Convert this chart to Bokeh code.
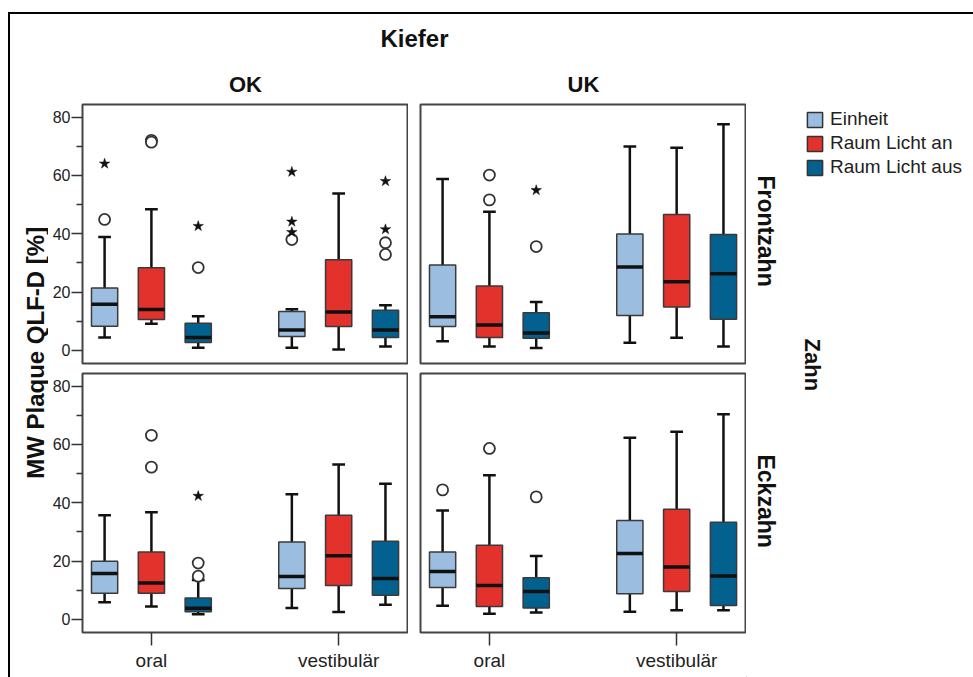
import numpy as np
from bokeh.plotting import figure
from bokeh.models import Range1d, FixedTicker, ColumnDataSource, Legend, LegendItem
from bokeh.layouts import column, row
from bokeh.core.properties import value
from bokeh.embed import file_html
from bokeh.resources import INLINE

# ---------------- data ----------------
CATEGORIES = ["oral", "vestibulär"]
GROUPS = ["Einheit", "Raum Licht an", "Raum Licht aus"]
KIEFER = ["OK", "UK"]
ZAHN = ["Frontzahn", "Eckzahn"]
Y_TICKS = [0, 20, 40, 60, 80]
Y_MINOR = [10, 30, 50, 70]
Y_LABEL = "MW Plaque QLF-D [%]"
FACET_COL_TITLE = "Kiefer"
FACET_ROW_TITLE = "Zahn"

# box order in each panel: oral(Einheit, an, aus), vestibulär(Einheit, an, aus)
# Frontzahn / OK
FZ_OK_LOW = [4.4, 9.1, 0.9, 0.9, 0.3, 1.3]
FZ_OK_Q1 = [8.3, 10.6, 2.7, 4.8, 8.2, 4.4]
FZ_OK_MED = [15.8, 14.0, 4.4, 7.0, 13.2, 7.0]
FZ_OK_Q3 = [21.4, 28.3, 9.3, 13.3, 31.1, 13.8]
FZ_OK_UP = [38.9, 48.4, 11.7, 14.1, 53.8, 15.5]
FZ_OK_OUT_IDX = [0, 1, 1, 2, 3, 5, 5]
FZ_OK_OUT_VAL = [44.9, 72.0, 71.4, 28.4, 38.0, 36.9, 32.9]
FZ_OK_EXT_IDX = [0, 2, 3, 3, 3, 5, 5]
FZ_OK_EXT_VAL = [64.0, 42.6, 61.2, 44.1, 40.5, 58.0, 41.5]

# Frontzahn / UK
FZ_UK_LOW = [3.1, 1.3, 0.8, 2.6, 4.3, 1.3]
FZ_UK_Q1 = [8.2, 4.4, 4.2, 12.0, 14.9, 10.7]
FZ_UK_MED = [11.5, 8.7, 6.0, 28.6, 23.5, 26.3]
FZ_UK_Q3 = [29.3, 22.1, 12.9, 39.9, 46.6, 39.7]
FZ_UK_UP = [58.8, 47.5, 16.6, 69.9, 69.5, 77.5]
FZ_UK_OUT_IDX = [1, 1, 2]
FZ_UK_OUT_VAL = [60.1, 51.6, 35.6]
FZ_UK_EXT_IDX = [2]
FZ_UK_EXT_VAL = [54.9]

# Eckzahn / OK
EZ_OK_LOW = [5.9, 4.4, 1.8, 3.9, 2.5, 5.0]
EZ_OK_Q1 = [9.0, 9.0, 2.6, 10.6, 11.6, 8.3]
EZ_OK_MED = [15.7, 12.5, 3.8, 14.7, 21.8, 14.0]
EZ_OK_Q3 = [19.9, 23.1, 7.3, 26.5, 35.7, 26.8]
EZ_OK_UP = [35.7, 36.7, 13.5, 42.9, 53.1, 46.5]
EZ_OK_OUT_IDX = [1, 1, 2, 2]
EZ_OK_OUT_VAL = [63.1, 52.2, 19.3, 14.8]
EZ_OK_EXT_IDX = [2]
EZ_OK_EXT_VAL = [42.3]

# Eckzahn / UK
EZ_UK_LOW = [4.7, 1.9, 2.4, 2.6, 3.1, 3.1]
EZ_UK_Q1 = [10.9, 4.4, 3.9, 8.8, 9.6, 4.8]
EZ_UK_MED = [16.4, 11.6, 9.6, 22.6, 18.0, 14.9]
EZ_UK_Q3 = [23.1, 25.4, 14.3, 33.9, 37.8, 33.3]
EZ_UK_UP = [37.3, 49.4, 21.7, 62.3, 64.3, 70.3]
EZ_UK_OUT_IDX = [0, 1, 2]
EZ_UK_OUT_VAL = [44.4, 58.6, 42.0]
EZ_UK_EXT_IDX = []
EZ_UK_EXT_VAL = []

# ---------------- style ----------------
COLORS = ["#9BBDDF", "#E3312C", "#03618F"]
FONT = "Liberation Sans"
X_RANGE = (-0.368, 1.373)
Y_RANGE = (-4.5, 84.3)
OFFSETS = [-0.25, 0.0, 0.25]
BOX_W = 0.14
CAP_W = 0.068
INK = "#111111"


def draw_panel(p, low, q1, med, q3, up, out_i, out_v, ext_i, ext_v):
    n = len(med)
    xs = [CATEGORIES.index(CATEGORIES[i // 3]) + OFFSETS[i % 3] for i in range(n)]
    src = ColumnDataSource(dict(
        x=xs,
        bx0=[x - BOX_W / 2 for x in xs], bx1=[x + BOX_W / 2 for x in xs],
        cx0=[x - CAP_W / 2 for x in xs], cx1=[x + CAP_W / 2 for x in xs],
        low=low, q1=q1, med=med, q3=q3, up=up,
        color=[COLORS[i % 3] for i in range(n)],
    ))
    p.segment("x", "q3", "x", "up", source=src, line_color=INK, line_width=2.5)
    p.segment("x", "q1", "x", "low", source=src, line_color=INK, line_width=2.5)
    p.segment("cx0", "up", "cx1", "up", source=src, line_color=INK, line_width=2.5)
    p.segment("cx0", "low", "cx1", "low", source=src, line_color=INK, line_width=2.5)
    p.vbar(x="x", width=BOX_W, bottom="q1", top="q3", source=src,
           fill_color="color", line_color="#3a3a3a", line_width=1.5)
    p.segment("bx0", "med", "bx1", "med", source=src, line_color=INK, line_width=3.5)
    if out_i:
        p.scatter(x=[xs[i] for i in out_i], y=out_v, marker="circle", size=11,
                  fill_color="white", line_color="#333333", line_width=1.8)
    if ext_i:
        p.scatter(x=[xs[i] for i in ext_i], y=ext_v, marker="star", size=11,
                  fill_color=INK, line_color=INK, line_width=0.5)


def make_fig(width, height, left, top, bottom, title=None, show_x=False, show_y=False):
    p = figure(width=width, height=height,
               x_range=Range1d(*X_RANGE), y_range=Range1d(*Y_RANGE),
               output_backend="svg", toolbar_location=None,
               x_axis_location="below" if show_x else None,
               y_axis_location="left" if show_y else None,
               min_border_left=left, min_border_right=0,
               min_border_top=top, min_border_bottom=bottom,
               title=title)
    for g in p.grid:
        g.visible = False
    p.outline_line_color = "#454545"
    p.outline_line_width = 2
    if title:
        p.title.align = "center"
        p.title.text_font = FONT
        p.title.text_font_size = "22px"
        p.title.text_font_style = "bold"
        p.title.text_color = INK
        p.title.standoff = 16
    if show_y:
        ax = p.yaxis[0]
        ax.ticker = FixedTicker(ticks=Y_TICKS, minor_ticks=Y_MINOR)
        ax.axis_line_color = None
        ax.major_tick_out = 11
        ax.major_tick_in = 0
        ax.minor_tick_out = 6
        ax.minor_tick_in = 0
        ax.major_tick_line_color = "#333333"
        ax.minor_tick_line_color = "#333333"
        ax.major_tick_line_width = 1.5
        ax.minor_tick_line_width = 1.5
        ax.major_label_text_font = FONT
        ax.major_label_text_font_size = "16px"
        ax.major_label_text_color = "#222222"
        ax.major_label_standoff = 1
    if show_x:
        ax = p.xaxis[0]
        ax.ticker = FixedTicker(ticks=list(range(len(CATEGORIES))), minor_ticks=[])
        ax.major_label_overrides = {i: c for i, c in enumerate(CATEGORIES)}
        ax.axis_line_color = None
        ax.major_tick_out = 13
        ax.major_tick_in = 0
        ax.major_tick_line_color = "#333333"
        ax.major_tick_line_width = 1.5
        ax.minor_tick_line_color = None
        ax.major_label_text_font = FONT
        ax.major_label_text_font_size = "19px"
        ax.major_label_text_color = "#222222"
        ax.major_label_standoff = 4
    return p


def blank(width, height, left=0):
    p = figure(width=width, height=height, x_range=Range1d(0, 1), y_range=Range1d(0, 1),
               output_backend="svg", toolbar_location=None,
               x_axis_location=None, y_axis_location=None,
               min_border_left=left, min_border_right=0, min_border_top=0, min_border_bottom=0)
    for g in p.grid:
        g.visible = False
    p.outline_line_color = None
    return p


HEAD_H = 47
TOP_H, BOT_H = 307, 309
YLAB_W = 38
tl = make_fig(398 - YLAB_W, TOP_H, 72 - YLAB_W, 42, 5, title=KIEFER[0], show_y=True)
tr = make_fig(338, TOP_H, 12, 42, 5, title=KIEFER[1])
bl = make_fig(398 - YLAB_W, BOT_H, 72 - YLAB_W, 5, 45, show_x=True, show_y=True)
br = make_fig(338, BOT_H, 12, 5, 45, show_x=True)

draw_panel(tl, FZ_OK_LOW, FZ_OK_Q1, FZ_OK_MED, FZ_OK_Q3, FZ_OK_UP,
           FZ_OK_OUT_IDX, FZ_OK_OUT_VAL, FZ_OK_EXT_IDX, FZ_OK_EXT_VAL)
draw_panel(tr, FZ_UK_LOW, FZ_UK_Q1, FZ_UK_MED, FZ_UK_Q3, FZ_UK_UP,
           FZ_UK_OUT_IDX, FZ_UK_OUT_VAL, FZ_UK_EXT_IDX, FZ_UK_EXT_VAL)
draw_panel(bl, EZ_OK_LOW, EZ_OK_Q1, EZ_OK_MED, EZ_OK_Q3, EZ_OK_UP,
           EZ_OK_OUT_IDX, EZ_OK_OUT_VAL, EZ_OK_EXT_IDX, EZ_OK_EXT_VAL)
draw_panel(br, EZ_UK_LOW, EZ_UK_Q1, EZ_UK_MED, EZ_UK_Q3, EZ_UK_UP,
           EZ_UK_OUT_IDX, EZ_UK_OUT_VAL, EZ_UK_EXT_IDX, EZ_UK_EXT_VAL)

# header with column facet title
header = blank(736, HEAD_H, left=72)
header.text(x=[0.5], y=[0.489], text=[FACET_COL_TITLE], text_align="center",
            text_baseline="middle", text_font=value(FONT), text_font_size="24px",
            text_font_style="bold", text_color=INK)

# y-axis label strip
ylab = blank(YLAB_W, TOP_H + BOT_H)
ylab.text(x=[0.66], y=[0.527], text=[Y_LABEL], angle=np.pi / 2, text_align="center",
          text_baseline="middle", text_font=value(FONT), text_font_size="24px",
          text_font_style="bold", text_color=INK)

# right side: legend + row facet labels
SIDE_H = TOP_H + BOT_H
side = blank(227, SIDE_H)
# legend proxies: one point each, placed outside the visible range of this strip
rs = [side.vbar(x=[-5], top=[-5], bottom=[-6], width=0.1, fill_color=c,
                line_color="#333333", line_width=1.5)
      for c in COLORS]
legend = Legend(items=[LegendItem(label=g, renderers=[r]) for g, r in zip(GROUPS, rs)],
                location=(59, 499), glyph_width=19, glyph_height=19, label_height=19,
                spacing=2, padding=0, margin=0, label_standoff=6,
                border_line_color=None, background_fill_alpha=0,
                label_text_font=FONT, label_text_font_size="19px", label_text_color="#222222")
side.add_layout(legend)
side.text(x=[0.088, 0.088], y=[0.7246, 0.2863], text=ZAHN, angle=-np.pi / 2,
          text_align="center", text_baseline="middle", text_font=value(FONT),
          text_font_size="23px", text_font_style="bold", text_color=INK)
side.text(x=[0.289], y=[0.5075], text=[FACET_ROW_TITLE], angle=-np.pi / 2,
          text_align="center", text_baseline="middle", text_font=value(FONT),
          text_font_size="22px", text_font_style="bold", text_color=INK)

root = column(header, row(ylab, column(tl, bl), column(tr, br), side),
              margin=(12, 0, 0, 8),
              styles={"border-top": "2px solid #000000", "border-left": "2px solid #000000"})

with open("out.html", "w") as f:
    f.write(file_html(root, INLINE))
